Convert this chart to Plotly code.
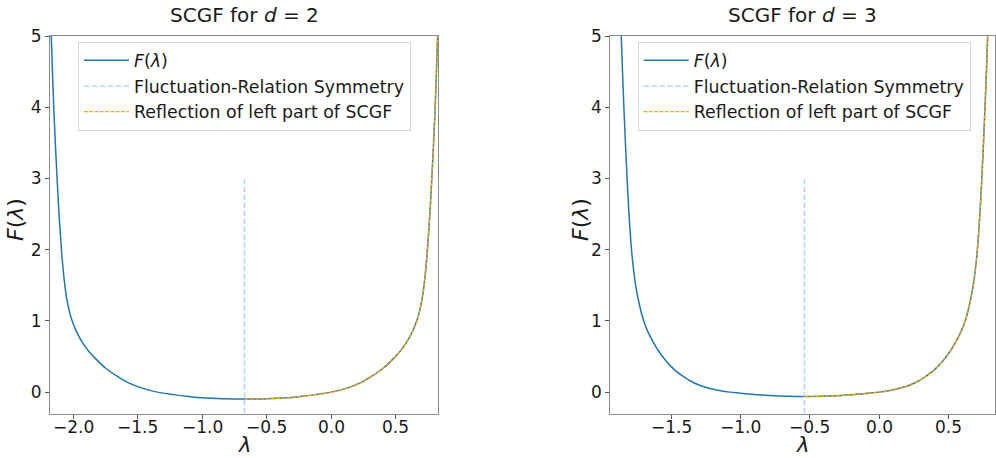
import plotly.graph_objects as go

# ---------------- data ----------------
# d = 2
lam_d2 = [-2.171, -2.162, -2.152, -2.140, -2.126, -2.111, -2.092, -2.079, -2.066, -2.049,
          -2.029, -2.009, -1.984, -1.959, -1.924, -1.884, -1.844, -1.749, -1.649, -1.568,
          -1.474, -1.348, -1.224, -1.102, -1.000, -0.844, -0.674,
          -0.504, -0.348, -0.246, -0.124, 0.000, 0.126, 0.220, 0.301, 0.401, 0.496,
          0.536, 0.576, 0.611, 0.636, 0.661, 0.681, 0.701, 0.718, 0.731, 0.744,
          0.763, 0.778, 0.792, 0.804, 0.814, 0.823]
F_d2 = [5.0, 4.5, 4.0, 3.5, 3.0, 2.5, 2.0, 1.72, 1.5, 1.29,
        1.12, 1.0, 0.885, 0.79, 0.68, 0.58, 0.5, 0.335, 0.21, 0.126,
        0.06, 0.0, -0.035, -0.062, -0.08, -0.094, -0.098,
        -0.094, -0.08, -0.062, -0.035, 0.0, 0.06, 0.126, 0.21, 0.335, 0.5,
        0.58, 0.68, 0.79, 0.885, 1.0, 1.12, 1.29, 1.5, 1.72, 2.0,
        2.5, 3.0, 3.5, 4.0, 4.5, 5.0]
refl_lam_d2 = [-0.674, -0.504, -0.348, -0.246, -0.124, 0.000, 0.126, 0.220, 0.301, 0.401,
               0.496, 0.536, 0.576, 0.611, 0.636, 0.661, 0.681, 0.701, 0.718, 0.731,
               0.744, 0.763, 0.778, 0.792, 0.804, 0.814, 0.823]
refl_F_d2 = [-0.098, -0.094, -0.08, -0.062, -0.035, 0.0, 0.06, 0.126, 0.21, 0.335,
             0.5, 0.58, 0.68, 0.79, 0.885, 1.0, 1.12, 1.29, 1.5, 1.72,
             2.0, 2.5, 3.0, 3.5, 4.0, 4.5, 5.0]
sym_d2 = -0.674

# d = 3
lam_d3 = [-1.860, -1.851, -1.841, -1.830, -1.818, -1.804, -1.786, -1.773, -1.756, -1.728,
          -1.698, -1.668, -1.628, -1.588, -1.538, -1.498, -1.458, -1.408, -1.364, -1.300,
          -1.238, -1.171, -1.076, -1.000, -0.868, -0.753, -0.658, -0.538,
          -0.418, -0.323, -0.208, -0.076, 0.000, 0.095, 0.162, 0.224, 0.288, 0.332,
          0.382, 0.422, 0.462, 0.512, 0.552, 0.592, 0.622, 0.652, 0.680, 0.697,
          0.710, 0.728, 0.742, 0.754, 0.765, 0.775, 0.784]
F_d3 = [5.0, 4.5, 4.0, 3.5, 3.0, 2.5, 2.0, 1.75, 1.5, 1.22,
        1.0, 0.85, 0.70, 0.57, 0.44, 0.355, 0.285, 0.215, 0.16, 0.10,
        0.062, 0.03, 0.0, -0.014, -0.037, -0.052, -0.058, -0.061,
        -0.058, -0.052, -0.037, -0.014, 0.0, 0.03, 0.062, 0.10, 0.16, 0.215,
        0.285, 0.355, 0.44, 0.57, 0.70, 0.85, 1.0, 1.22, 1.5, 1.75,
        2.0, 2.5, 3.0, 3.5, 4.0, 4.5, 5.0]
refl_lam_d3 = [-0.538, -0.418, -0.323, -0.208, -0.076, 0.000, 0.095, 0.162, 0.224, 0.288,
               0.332, 0.382, 0.422, 0.462, 0.512, 0.552, 0.592, 0.622, 0.652, 0.680,
               0.697, 0.710, 0.728, 0.742, 0.754, 0.765, 0.775, 0.784]
refl_F_d3 = [-0.061, -0.058, -0.052, -0.037, -0.014, 0.0, 0.03, 0.062, 0.10, 0.16,
             0.215, 0.285, 0.355, 0.44, 0.57, 0.70, 0.85, 1.0, 1.22, 1.5,
             1.75, 2.0, 2.5, 3.0, 3.5, 4.0, 4.5, 5.0]
sym_d3 = -0.538

sym_line_F = [-0.3, 3.0]

xticks_d2 = [-2.0, -1.5, -1.0, -0.5, 0.0, 0.5]
xticks_d3 = [-1.5, -1.0, -0.5, 0.0, 0.5]
yticks = [0, 1, 2, 3, 4, 5]
titles = ["SCGF for <i>d</i> = 2", "SCGF for <i>d</i> = 3"]
legend_names = ["<i>F</i>(<i>λ</i>)", "Fluctuation-Relation Symmetry", "Reflection of left part of SCGF"]

# ---------------- figure ----------------
W, H = 996, 458
FONT = "DejaVu Sans"
BLUE = "#1f77b4"
LBLUE = "#add8e6"
ORANGE = "#ffa500"
TXT = "#1a1a1a"

fig = go.Figure()

def fmt(v):
    return f"{v:.1f}".replace("-", "\u2212")

def add_panel(lam, F, rl, rF, sym, xa, ya, legend):
    fig.add_trace(go.Scatter(x=lam, y=F, mode="lines", name=legend_names[0],
                             line=dict(color=BLUE, width=1.5, shape="spline", smoothing=1.0),
                             xaxis=xa, yaxis=ya, legend=legend))
    fig.add_trace(go.Scatter(x=[sym, sym], y=sym_line_F, mode="lines", name=legend_names[1],
                             line=dict(color=LBLUE, width=1.5, dash="5.5px,2.4px"),
                             xaxis=xa, yaxis=ya, legend=legend))
    fig.add_trace(go.Scatter(x=rl, y=rF, mode="lines", name=legend_names[2],
                             line=dict(color=ORANGE, width=1.3, dash="3.7px,1.6px",
                                       shape="spline", smoothing=1.0),
                             xaxis=xa, yaxis=ya, legend=legend))

add_panel(lam_d2, F_d2, refl_lam_d2, refl_F_d2, sym_d2, "x", "y", "legend")
add_panel(lam_d3, F_d3, refl_lam_d3, refl_F_d3, sym_d3, "x2", "y2", "legend2")

# axis geometry (pixels)
L1, R1 = 50, 438
L2, R2 = 610.3, 995
TOP, BOT = 36, 413.5

axis_common = dict(showline=True, mirror=True, linecolor="#8c8c8c", linewidth=1,
                   ticks="outside", ticklen=4, tickcolor="#555555", tickwidth=1,
                   showgrid=False, zeroline=False, automargin=False,
                   tickfont=dict(family=FONT, size=17, color=TXT))

legend_common = dict(xanchor="left", yanchor="top", itemwidth=45,
                     bgcolor="rgba(255,255,255,0.8)", bordercolor="#d6d6d6", borderwidth=1,
                     font=dict(family=FONT, size=17.4, color=TXT))

ydom = [1 - BOT / H, 1 - TOP / H]
fig.update_layout(
    width=W, height=H,
    margin=dict(l=0, r=0, t=0, b=0, pad=0, autoexpand=False),
    paper_bgcolor="white", plot_bgcolor="white",
    font=dict(family=FONT, color=TXT),
    xaxis=dict(domain=[L1 / W, R1 / W], range=[-2.181, 0.826], showticklabels=False,
               tickvals=xticks_d2, anchor="y", **axis_common),
    yaxis=dict(domain=ydom, range=[-0.3, 5], tickvals=yticks,
               ticktext=[str(v) for v in yticks], anchor="x", **axis_common),
    xaxis2=dict(domain=[L2 / W, R2 / W], range=[-1.939, 0.837], showticklabels=False,
                tickvals=xticks_d3, anchor="y2", **axis_common),
    yaxis2=dict(domain=ydom, range=[-0.3, 5], tickvals=yticks,
                ticktext=[str(v) for v in yticks], anchor="x2", **axis_common),
    legend=dict(x=78 / W, y=1 - 41.5 / H, **legend_common),
    legend2=dict(x=637.7 / W, y=1 - 41.5 / H, **legend_common),
    showlegend=True,
)

annots = []
# x tick labels (placed at the data positions of the ticks)
for xref, ticks in (("x", xticks_d2), ("x2", xticks_d3)):
    for v in ticks:
        annots.append(dict(text=fmt(v), x=v, y=1 - 427 / H, xref=xref, yref="paper",
                           xanchor="center", yanchor="middle", showarrow=False,
                           font=dict(family=FONT, size=17, color=TXT)))
for title, (l, r), ylx in zip(titles, [(L1, R1), (L2, R2)], [15, 580]):
    cx = (l + r) / 2 / W
    annots.append(dict(text=title, x=cx, y=1 - 15 / H, xref="paper", yref="paper",
                       xanchor="center", yanchor="middle", showarrow=False,
                       font=dict(family=FONT, size=20, color=TXT)))
    annots.append(dict(text="<i>λ</i>", x=cx, y=0, xref="paper", yref="paper",
                       xanchor="center", yanchor="bottom", showarrow=False, borderpad=0,
                       font=dict(family=FONT, size=21, color=TXT)))
    annots.append(dict(text="<i>F</i>(<i>λ</i>)", x=ylx / W, y=1 - 220 / H, xref="paper", yref="paper",
                       xanchor="center", yanchor="middle", showarrow=False, textangle=-90,
                       font=dict(family=FONT, size=22, color=TXT)))
fig.update_layout(annotations=annots)

fig.write_html("out.html", config={"displayModeBar": False},
               post_script="document.body.style.margin='0';document.body.style.overflow='hidden';")
